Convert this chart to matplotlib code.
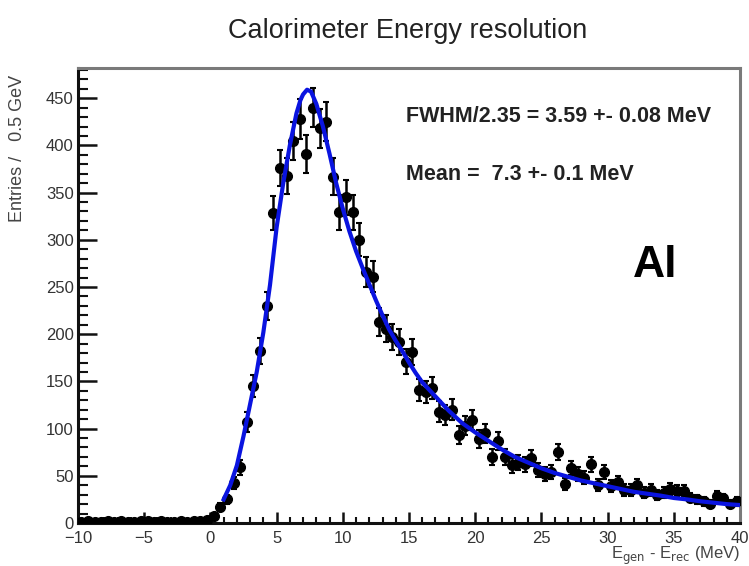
import numpy as np
import matplotlib
matplotlib.use("Agg")
import matplotlib.pyplot as plt
from matplotlib.ticker import MultipleLocator

plt.rcParams['font.family'] = ['Liberation Sans', 'DejaVu Sans']

# ---- data ----
bin_centers = np.arange(-9.75, 40.0, 0.5)
entries = [
    # -9.75 .. -0.25
    1, 2, 1, 1, 2, 1, 2, 1, 1, 2, 2, 1, 2, 1, 1, 2, 1, 2, 2, 3,
    # 0.25 .. 9.75
    7, 17, 25, 42, 59, 107, 145, 182, 230, 328,
    376, 368, 405, 428, 391, 440, 418, 425, 367, 329,
    # 10.25 .. 19.75
    345, 329, 300, 266, 261, 213, 206, 197, 192, 171,
    181, 141, 139, 143, 118, 114, 120, 93, 103, 109,
    # 20.25 .. 29.75
    89, 95, 70, 87, 70, 61, 64, 62, 69, 56,
    52, 54, 75, 41, 58, 52, 48, 62, 40, 54,
    # 30.25 .. 39.75
    39, 43, 35, 35, 40, 32, 35, 30, 32, 36,
    34, 34, 27, 25, 23, 20, 29, 26, 20, 23,
]

fit_x = [1.0, 1.5, 2.0, 2.5, 3.0, 3.5, 4.0, 4.5, 5.0, 5.5, 6.0, 6.5, 6.8, 7.0, 7.3,
         7.6, 8.0, 8.5, 9.0, 9.5, 10.0, 10.5, 11.0, 11.5, 12.0, 12.5, 13.0, 13.5,
         14.0, 14.5, 15.0, 15.5, 16.0, 17.0, 18.0, 19.0, 20.0, 21.0, 22.0, 23.0,
         24.0, 25.0, 26.0, 27.0, 28.0, 29.0, 30.0, 31.0, 32.0, 33.0, 34.0, 35.0,
         36.0, 37.0, 38.0, 39.0, 40.0]
fit_y = [25, 40, 61, 92, 126, 160, 202, 252, 313, 360, 400, 434, 448, 454, 459,
         457, 444, 420, 391, 360, 333, 309, 288, 270, 253, 236, 220, 205,
         193, 182, 170, 159, 149, 134, 119, 106, 96, 87, 78, 70,
         64, 58, 53, 49, 45, 42, 39, 36, 33, 31, 29, 26.5,
         25, 23, 21.5, 20, 19]

title = "Calorimeter Energy resolution"
fwhm_text = "FWHM/2.35 = 3.59 +- 0.08 MeV"
mean_text = "Mean =  7.3 +- 0.1 MeV"
label_text = "Al"

# ---- figure ----
fig = plt.figure(figsize=(7.49, 5.66), dpi=100)
ax = fig.add_axes([78/749, 1-523/566, (740-78)/749, (523-68)/566])

entries = np.array(entries, dtype=float)
yerr = np.sqrt(entries)
ax.errorbar(bin_centers, entries, yerr=yerr, fmt='o', color='black',
            markersize=7, elinewidth=1.8, capsize=2.5, capthick=1.5, zorder=3)
ax.plot(fit_x, fit_y, color='#0a14e0', lw=3, solid_joinstyle='round', zorder=4)

ax.set_xlim(-10, 40)
ax.set_ylim(0, 482)

ax.xaxis.set_major_locator(MultipleLocator(5))
ax.xaxis.set_minor_locator(MultipleLocator(1))
ax.yaxis.set_major_locator(MultipleLocator(50))
ax.yaxis.set_minor_locator(MultipleLocator(10))
ax.tick_params(axis='both', which='both', direction='in', top=False, right=False,
               colors='#111111', labelcolor='#333333', labelsize=12)
ax.tick_params(axis='y', which='major', length=14, width=1.8, pad=3)
ax.tick_params(axis='y', which='minor', length=7, width=1.5)
ax.tick_params(axis='x', which='major', length=8, width=1.8, pad=6)
ax.tick_params(axis='x', which='minor', length=4, width=1.5)
ax.set_yticks(np.arange(0, 451, 50))
ax.set_yticklabels([str(v) for v in range(0, 451, 50)])

for s in ['left', 'bottom']:
    ax.spines[s].set_linewidth(2.2)
    ax.spines[s].set_color('#111111')
for s in ['top', 'right']:
    ax.spines[s].set_linewidth(2.2)
    ax.spines[s].set_color('#7a7a7a')

fig.text(408/749, 1-31/566, title, ha='center', va='center', fontsize=19.5, color='#222222')
fig.text(18/749, 1-148/566, "Entries /   0.5 GeV", rotation=90, ha='center', va='center',
         fontsize=13, color='#444444')
fig.text(740/749, 1-556/566, r"E$_{\rm gen}$ - E$_{\rm rec}$ (MeV)", ha='right', va='center',
         fontsize=12, color='#444444')

ax.text(0.495, 0.894, fwhm_text, transform=ax.transAxes, fontsize=15.5, fontweight='bold',
        color='#222222', ha='left', va='center')
ax.text(0.495, 0.765, mean_text, transform=ax.transAxes, fontsize=15.5, fontweight='bold',
        color='#222222', ha='left', va='center')
ax.text(0.872, 0.565, label_text, transform=ax.transAxes, fontsize=32, fontweight='bold',
        color='black', ha='center', va='center')

fig.savefig("out.png", dpi=100)
